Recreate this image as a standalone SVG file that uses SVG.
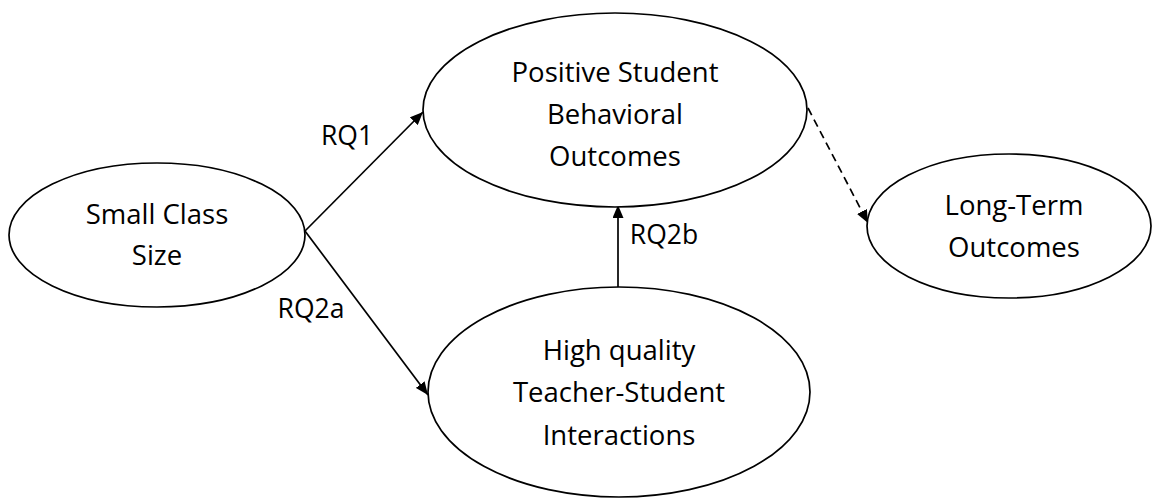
<svg xmlns="http://www.w3.org/2000/svg" width="1155" height="500" viewBox="0 0 1155 500">
  <style>
    .node { fill: #ffffff; stroke: #000000; stroke-width: 1.7; }
    .label { font-family: "Open Sans", "Liberation Sans", Arial, sans-serif; font-size: 27.5px; fill: #000000; text-anchor: middle; }
    .edge-label { font-family: "Open Sans", "Liberation Sans", Arial, sans-serif; font-size: 26.5px; fill: #000000; text-anchor: middle; }
    .edge { stroke: #000000; stroke-width: 1.7; fill: none; marker-end: url(#arrow); }
    .dashed { stroke-dasharray: 8 5; }
  </style>
  <defs>
    <marker id="arrow" viewBox="0 0 13 11" refX="13" refY="5.5" markerWidth="13" markerHeight="11" markerUnits="userSpaceOnUse" orient="auto">
      <path d="M0,0 L13,5.5 L0,11 Z" fill="#000000"/>
    </marker>
  </defs>
  <rect width="1155" height="500" fill="#ffffff"/>

  <g id="connectors">
    <line class="edge" x1="305" y1="231" x2="423" y2="112"/>
    <line class="edge" x1="305" y1="231" x2="428" y2="395"/>
    <line class="edge" x1="618" y1="288" x2="618" y2="205"/>
    <line class="edge dashed" x1="808" y1="108" x2="868" y2="223"/>
    <text class="edge-label" x="347" y="145">RQ1</text>
    <text class="edge-label" x="311" y="318">RQ2a</text>
    <text class="edge-label" x="664" y="244">RQ2b</text>
  </g>

  <g id="small-class-size">
    <ellipse class="node" cx="157" cy="235" rx="148" ry="72"/>
    <text class="label" x="157" y="224">Small Class</text>
    <text class="label" x="157" y="265">Size</text>
  </g>

  <g id="positive-student-behavioral-outcomes">
    <ellipse class="node" cx="615" cy="110" rx="192" ry="97"/>
    <text class="label" x="615" y="82">Positive Student</text>
    <text class="label" x="615" y="124">Behavioral</text>
    <text class="label" x="615" y="166">Outcomes</text>
  </g>

  <g id="teacher-student-interactions">
    <ellipse class="node" cx="619" cy="392" rx="191" ry="105"/>
    <text class="label" x="619" y="360">High quality</text>
    <text class="label" x="619" y="402">Teacher-Student</text>
    <text class="label" x="619" y="445">Interactions</text>
  </g>

  <g id="long-term-outcomes">
    <ellipse class="node" cx="1009" cy="226" rx="142" ry="72"/>
    <text class="label" x="1014" y="215">Long-Term</text>
    <text class="label" x="1014" y="257">Outcomes</text>
  </g>
</svg>
